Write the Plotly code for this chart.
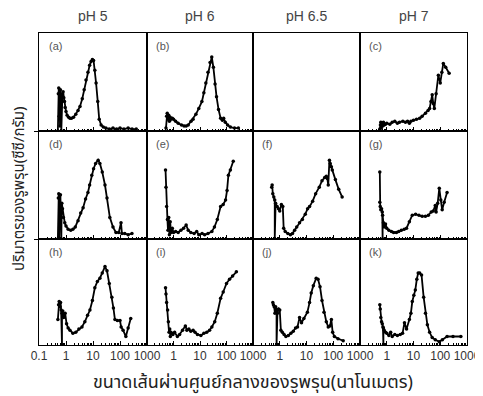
import plotly.graph_objects as go
from plotly.subplots import make_subplots

col_titles = ["pH 5", "pH 6", "pH 6.5", "pH 7"]
x_title = "ขนาดเส้นผ่านศูนย์กลางของรูพรุน(นาโนเมตร)"
y_title = "ปริมาตรของรูพรุน(ซีซี/กรัม)"
tick_vals_first = [0.1, 1, 10, 100, 1000]
tick_text_first = ["0.1", "1", "10", "100", "1000"]
tick_vals_other = [1, 10, 100, 1000]
tick_text_other = ["1", "10", "100", "1000"]
minor_vals = [m * 10 ** e for e in (-1, 0, 1, 2) for m in range(2, 10)]

# pore diameter (nm) and relative pore volume for each panel
a_x = [0.50,0.52,0.54,0.56,0.58,0.60,0.62,0.64,0.67,0.70,0.74,0.78,0.83,0.88,0.93,1.0,1.1,1.25,1.4,1.6,1.9,2.3,2.8,3.3,4.0,4.7,5.5,6.5,7.5,8.5,9.5,10.5,11.7,13,15,17,20,24,30,40,55,75,100,140,200,280,400]
a_y = [0.0,0.38,0.44,0.15,0.40,0.05,0.42,0.36,0.0,0.30,0.38,0.40,0.34,0.30,0.24,0.20,0.16,0.14,0.13,0.13,0.14,0.17,0.21,0.25,0.33,0.42,0.52,0.60,0.67,0.71,0.73,0.72,0.62,0.49,0.30,0.12,0.06,0.04,0.03,0.02,0.03,0.02,0.03,0.02,0.03,0.02,0.02]

b_x = [0.52,0.55,0.58,0.62,0.66,0.7,0.75,0.8,0.9,1.0,1.2,1.5,2.0,2.5,3.0,3.6,4.6,5.5,7,9,11.8,14,16.6,20,24,27.8,32,37,42,50,60,70,78,90,110,140,200,280]
b_y = [0.03,0.15,0.18,0.12,0.16,0.10,0.14,0.12,0.13,0.12,0.10,0.08,0.06,0.05,0.05,0.06,0.10,0.12,0.17,0.23,0.30,0.39,0.49,0.60,0.70,0.755,0.65,0.48,0.35,0.22,0.13,0.11,0.13,0.09,0.06,0.04,0.03,0.03]

c_x = [0.55,0.58,0.6,0.63,0.66,0.7,0.75,0.8,0.9,1.0,1.3,1.6,2,2.5,3,4,5,6,7,8,10,13,17,21,28,35,40,45,50,55,60,70,85,100,115,130,160,215]
c_y = [0.02,0.06,0.09,0.03,0.08,0.05,0.09,0.06,0.07,0.08,0.07,0.09,0.10,0.08,0.09,0.10,0.09,0.10,0.08,0.10,0.11,0.12,0.13,0.15,0.18,0.21,0.23,0.30,0.37,0.28,0.23,0.38,0.57,0.49,0.60,0.69,0.65,0.59]

d_x = [0.50,0.52,0.54,0.56,0.58,0.6,0.62,0.64,0.67,0.70,0.74,0.8,0.9,1.0,1.2,1.5,1.8,2.2,2.8,3.5,4.3,5.3,6.5,7.5,9,10.5,12.5,15.5,18,22,27.8,33,42,55,71,90,109,118,150,200,277]
d_y = [0.0,0.38,0.42,0.0,0.40,0.10,0.41,0.30,0.0,0.33,0.28,0.20,0.15,0.12,0.09,0.08,0.09,0.11,0.17,0.24,0.29,0.37,0.43,0.50,0.59,0.65,0.70,0.73,0.70,0.62,0.50,0.38,0.20,0.11,0.06,0.06,0.15,0.05,0.05,0.04,0.05]

e_x = [0.50,0.52,0.55,0.59,0.62,0.66,0.7,0.75,0.8,0.9,1.0,1.2,1.5,1.9,2.4,3.0,3.6,4.5,6,7.5,9,12,15,20,28,35,45,60,75,92,105,118,140,180]
e_y = [0.64,0.48,0.30,0.18,0.08,0.20,0.04,0.16,0.06,0.10,0.06,0.07,0.06,0.08,0.10,0.13,0.08,0.06,0.05,0.07,0.04,0.05,0.04,0.05,0.07,0.11,0.18,0.30,0.32,0.36,0.45,0.59,0.64,0.72]

f_x = [0.50,0.52,0.55,0.6,0.65,0.65,0.70,0.8,0.9,1.0,1.15,1.3,1.4,1.6,2.0,2.5,3.0,3.6,4.3,5.5,7,9,11,13,17,22,30,38,48,55,60,65,72,77,85,92,120,160,215]
f_y = [0.48,0.50,0.42,0.39,0.36,0.0,0.33,0.30,0.28,0.26,0.32,0.30,0.10,0.07,0.05,0.04,0.05,0.08,0.11,0.15,0.18,0.23,0.28,0.30,0.35,0.42,0.48,0.54,0.57,0.58,0.56,0.50,0.73,0.70,0.67,0.64,0.55,0.46,0.39]

g_x = [0.55,0.55,0.57,0.6,0.64,0.68,0.70,0.70,0.75,0.8,0.9,1.0,1.2,1.5,1.8,2.3,2.8,3.5,4.5,5.5,7,9,12,16,21,28,36,46,55,65,70,80,92,105,118,140,180]
g_y = [0.62,0.34,0.30,0.27,0.28,0.25,0.0,0.22,0.15,0.11,0.14,0.10,0.08,0.07,0.06,0.06,0.07,0.08,0.09,0.10,0.16,0.22,0.23,0.22,0.21,0.21,0.22,0.25,0.26,0.31,0.25,0.33,0.47,0.36,0.27,0.34,0.43]

h_x = [0.50,0.53,0.56,0.6,0.63,0.66,0.71,0.71,0.76,0.82,0.93,1.05,1.2,1.4,1.8,2.3,3.0,3.9,5.0,6.3,7.7,9.5,11.7,14.5,18,22,27.8,33,40,50,57,65,80,100,110,130,165,200,250]
h_y = [0.24,0.38,0.41,0.36,0.40,0.33,0.0,0.30,0.32,0.26,0.30,0.20,0.16,0.14,0.11,0.12,0.15,0.17,0.22,0.28,0.33,0.42,0.54,0.60,0.63,0.68,0.74,0.70,0.58,0.45,0.35,0.24,0.23,0.23,0.17,0.14,0.08,0.16,0.25]

i_x = [0.50,0.52,0.55,0.6,0.64,0.68,0.72,0.76,0.8,0.85,0.95,1.1,1.4,1.7,2.2,2.8,3.2,3.8,4.5,5.5,6.5,8,10.8,14,18,23,28,36,45,60,75,100,130,170,236]
i_y = [0.54,0.48,0.40,0.33,0.22,0.12,0.15,0.08,0.12,0.11,0.10,0.12,0.08,0.10,0.14,0.18,0.14,0.15,0.13,0.14,0.12,0.10,0.09,0.11,0.12,0.14,0.17,0.22,0.30,0.44,0.50,0.58,0.62,0.65,0.69]

j_x = [0.55,0.58,0.62,0.66,0.70,0.76,0.76,0.82,0.9,1.0,1.1,1.25,1.45,1.7,2.1,2.6,3.2,3.9,4.6,5.5,6.5,8,10.8,13,15,18,23,27,32,38,45,55,65,75,85,95,110,150,235]
j_y = [0.40,0.38,0.36,0.30,0.36,0.33,0.0,0.30,0.34,0.33,0.14,0.12,0.10,0.08,0.09,0.11,0.13,0.16,0.17,0.26,0.21,0.25,0.31,0.40,0.49,0.56,0.63,0.62,0.55,0.42,0.31,0.22,0.17,0.18,0.24,0.12,0.08,0.06,0.04]

k_x = [0.55,0.57,0.6,0.64,0.68,0.72,0.75,0.75,0.8,0.9,1.0,1.2,1.4,1.6,2.0,2.5,3.2,3.9,4.6,5.5,7,8,9,10.3,11.7,13.3,15,17,20,24,28,33,40,50,65,92,120,180,300,590]
k_y = [0.38,0.34,0.26,0.22,0.20,0.17,0.0,0.16,0.14,0.12,0.11,0.09,0.12,0.08,0.10,0.09,0.10,0.11,0.21,0.15,0.24,0.30,0.41,0.47,0.52,0.62,0.68,0.68,0.66,0.45,0.30,0.19,0.12,0.07,0.05,0.03,0.05,0.08,0.08,0.08]

panels = {
    (1, 1): ("(a)", a_x, a_y), (1, 2): ("(b)", b_x, b_y), (1, 4): ("(c)", c_x, c_y),
    (2, 1): ("(d)", d_x, d_y), (2, 2): ("(e)", e_x, e_y), (2, 3): ("(f)", f_x, f_y), (2, 4): ("(g)", g_x, g_y),
    (3, 1): ("(h)", h_x, h_y), (3, 2): ("(i)", i_x, i_y), (3, 3): ("(j)", j_x, j_y), (3, 4): ("(k)", k_x, k_y),
}

FONT = "Liberation Sans, Arial, Helvetica, sans-serif"
THAI_FONT = "Noto Sans Thai, Tahoma, Liberation Sans, sans-serif"

fig = make_subplots(rows=3, cols=4, row_heights=[98, 108, 106], column_widths=[108, 106, 107, 107],
                    horizontal_spacing=0, vertical_spacing=0)

for r in range(1, 4):
    for c in range(1, 5):
        key = (r, c)
        empty = key not in panels
        if not empty:
            label, xs, ys = panels[key]
            fig.add_trace(go.Scatter(x=xs, y=ys, mode="lines+markers",
                                     line=dict(color="black", width=1.8),
                                     marker=dict(color="black", size=3.5),
                                     showlegend=False, hoverinfo="skip"), row=r, col=c)
            fig.add_annotation(text=label, x=0.07, y=0.95, xref="x domain", yref="y domain",
                               xanchor="left", yanchor="top", showarrow=False,
                               font=dict(size=11, color="#555555", family=FONT), row=r, col=c)
        else:
            fig.add_trace(go.Scatter(x=[1], y=[0.5], mode="markers", marker=dict(opacity=0),
                                     showlegend=False, hoverinfo="skip"), row=r, col=c)
        first = (c == 1)
        fig.update_xaxes(type="log", range=[-1, 3], automargin=False,
                         tickvals=tick_vals_first if first else tick_vals_other,
                         ticktext=tick_text_first if first else tick_text_other,
                         showticklabels=(r == 3),
                         ticks="" if empty else "inside", ticklen=4, tickwidth=1, tickcolor="black",
                         minor=dict(ticks="" if empty else "inside", tickvals=minor_vals, ticklen=2,
                                    tickwidth=1, tickcolor="black", showgrid=False),
                         showline=True, linecolor="black", linewidth=1, mirror=True,
                         showgrid=False, zeroline=False,
                         tickfont=dict(size=12, color="#333333", family=FONT),
                         row=r, col=c)
        fig.update_yaxes(range=[0, 1], showticklabels=False, automargin=False,
                         ticks="outside" if (first and r > 1) else "",
                         tickvals=[1], ticklen=4, tickcolor="black",
                         showline=True, linecolor="black", linewidth=1, mirror=True,
                         showgrid=False, zeroline=False, row=r, col=c)

# column titles
col_centers = [(39 + 147) / 2, (147 + 253) / 2, (253 + 360) / 2, (360 + 467) / 2]
for t, cx in zip(col_titles, col_centers):
    fig.add_annotation(text=t, x=(cx - 39) / 428, y=1.0, xref="paper", yref="paper",
                       yshift=17, showarrow=False, xanchor="center", yanchor="middle",
                       font=dict(size=14, color="#444444", family=FONT))

fig.add_annotation(text=x_title, x=0.5, y=0, xref="paper", yref="paper", yshift=-37,
                   showarrow=False, xanchor="center", yanchor="middle",
                   font=dict(size=18, color="#222222", family=THAI_FONT))
fig.add_annotation(text=y_title, x=0, y=0.5, xref="paper", yref="paper", xshift=-20,
                   showarrow=False, textangle=-90, xanchor="center", yanchor="middle",
                   font=dict(size=15, color="#222222", family=THAI_FONT))

# page body adds an 8px offset, so the figure is sized to fill the remaining window
fig.update_layout(width=475, height=388, margin=dict(l=31, r=16, t=25, b=51),
                  paper_bgcolor="white", plot_bgcolor="white",
                  font=dict(family=FONT))

fig.write_html("out.html")
